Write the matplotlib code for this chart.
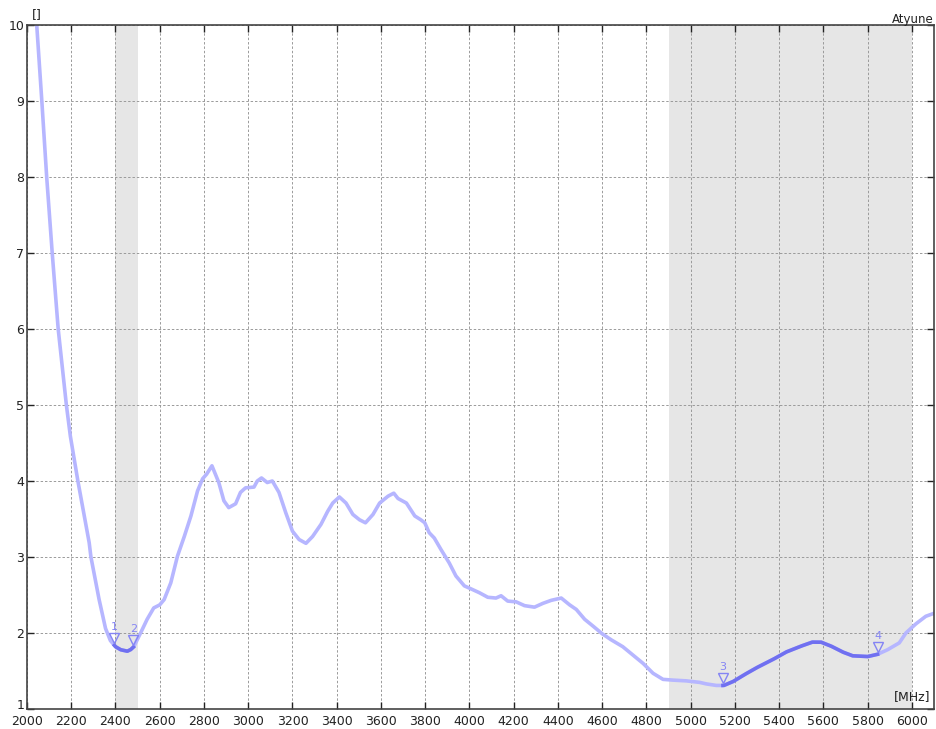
import numpy as np
import matplotlib
matplotlib.use("Agg")
import matplotlib.pyplot as plt
from matplotlib.transforms import offset_copy, ScaledTranslation

freq = [2000, 2044, 2067, 2089, 2114, 2141, 2178, 2196, 2230, 2281, 2289, 2326, 2355, 2377,
        2400, 2423, 2453, 2468, 2483, 2498, 2520, 2543, 2573, 2600, 2620, 2650, 2680, 2711,
        2741, 2771, 2794, 2812, 2836, 2867, 2890, 2912, 2943, 2965, 2988, 3026, 3041, 3060,
        3086, 3109, 3139, 3170, 3200, 3230, 3261, 3291, 3329, 3359, 3382, 3412, 3442, 3473,
        3503, 3530, 3564, 3594, 3632, 3658, 3677, 3715, 3753, 3780, 3798, 3818, 3841, 3871,
        3909, 3939, 3977, 4000, 4045, 4083, 4120, 4143, 4173, 4211, 4249, 4294, 4332, 4370,
        4415, 4453, 4483, 4521, 4559, 4600, 4641, 4693, 4739, 4785, 4830, 4875, 4920, 4981,
        5041, 5071, 5116, 5150, 5191, 5236, 5296, 5371, 5432, 5492, 5550, 5589, 5633, 5687,
        5732, 5800, 5845, 5890, 5943, 5973, 6018, 6063, 6101]
vswr = [11.2, 10.0, 9.0, 8.0, 7.0, 6.0, 5.0, 4.59, 4.0, 3.19, 3.0, 2.44, 2.06, 1.9,
        1.82, 1.78, 1.76, 1.78, 1.82, 1.91, 2.04, 2.18, 2.33, 2.37, 2.44, 2.66, 3.01, 3.27,
        3.54, 3.87, 4.03, 4.09, 4.2, 3.98, 3.74, 3.65, 3.7, 3.85, 3.91, 3.92, 4.0, 4.04,
        3.98, 4.0, 3.85, 3.58, 3.34, 3.23, 3.18, 3.27, 3.43, 3.6, 3.71, 3.79, 3.71, 3.56,
        3.49, 3.45, 3.56, 3.71, 3.8, 3.84, 3.77, 3.71, 3.54, 3.49, 3.45, 3.32, 3.25, 3.10,
        2.92, 2.75, 2.62, 2.59, 2.53, 2.47, 2.46, 2.49, 2.42, 2.41, 2.36, 2.34, 2.39, 2.43,
        2.46, 2.37, 2.31, 2.18, 2.09, 1.99, 1.91, 1.82, 1.71, 1.6, 1.47, 1.39, 1.38, 1.37,
        1.35, 1.33, 1.31, 1.31, 1.36, 1.44, 1.54, 1.65, 1.75, 1.82, 1.88, 1.88, 1.83, 1.75,
        1.70, 1.69, 1.72, 1.78, 1.87, 2.0, 2.12, 2.22, 2.26]

bands = [(2400, 2500), (4900, 6000)]
marker_freq = [2395, 2481, 5146, 5845]
marker_labels = ["1", "2", "3", "4"]
dark_segments = [(2395, 2481), (5146, 5845)]

xticks = list(range(2000, 6001, 200))
yticks = list(range(1, 11))

fig = plt.figure(figsize=(9.36, 7.29), dpi=100)
ax = fig.add_axes([27 / 936, 20 / 729, 907 / 936, 684 / 729])

light = "#b6b6ff"
dark = "#7070f0"

for a, b in bands:
    ax.axvspan(a, b, color="#e6e6e6", zorder=0, lw=0)

f_arr = np.array(freq, dtype=float)
v_arr = np.array(vswr, dtype=float)
ax.plot(f_arr, v_arr, color=light, lw=2.6, zorder=3, solid_joinstyle="round")
for a, b in dark_segments:
    fs = np.linspace(a, b, 300)
    ax.plot(fs, np.interp(fs, f_arr, v_arr), color=dark, lw=2.6, zorder=4)

mv = np.interp(marker_freq, f_arr, v_arr)
trans = offset_copy(ax.transData, fig=fig, y=5, units="points")
ax.plot(marker_freq, mv, linestyle="none", marker="v", markersize=7,
        markerfacecolor="none", markeredgecolor="#8484f4", markeredgewidth=1.0,
        transform=trans, zorder=5)
trans2 = offset_copy(ax.transData, fig=fig, y=13, units="points")
for f0, v0, lab in zip(marker_freq, mv, marker_labels):
    ax.text(f0, v0, lab, transform=trans2, ha="center", va="center",
            color="#8484f4", fontsize=8, zorder=5)

ax.set_xlim(2000, 6100)
ax.set_ylim(1, 10)
ax.set_xticks(xticks)
ax.set_yticks(yticks)
ax.grid(True, color="#9a9a9a", linestyle=(0, (2.5, 2)), lw=0.7, zorder=1)
ax.set_axisbelow(False)
ax.tick_params(direction="in", length=5, width=1.0, top=True, right=True,
               labelsize=9, colors="#222222", labelcolor="#222222")
ax.tick_params(axis="y", pad=2)
ax.tick_params(axis="x", pad=4)
for s in ax.spines.values():
    s.set_color("#444444")
    s.set_linewidth(1.2)
    s.set_zorder(6)

# the lowest y label sits a little higher, clear of the x labels
ylabels = ax.get_yticklabels()
ylabels[0].set_transform(ylabels[0].get_transform() + ScaledTranslation(0, 5 / 100, fig.dpi_scale_trans))

fig.text(32 / 936, 1 - 15 / 729, "[]", fontsize=9, color="#222222", va="center", ha="left")
fig.text(934 / 936, 1 - 19 / 729, "Atyune", fontsize=8.5, color="#222222", va="center", ha="right")
ax.text(0.996, 0.008, "[MHz]", transform=ax.transAxes, fontsize=9, color="#222222",
        ha="right", va="bottom", zorder=7)

fig.savefig("out.png", dpi=100)
